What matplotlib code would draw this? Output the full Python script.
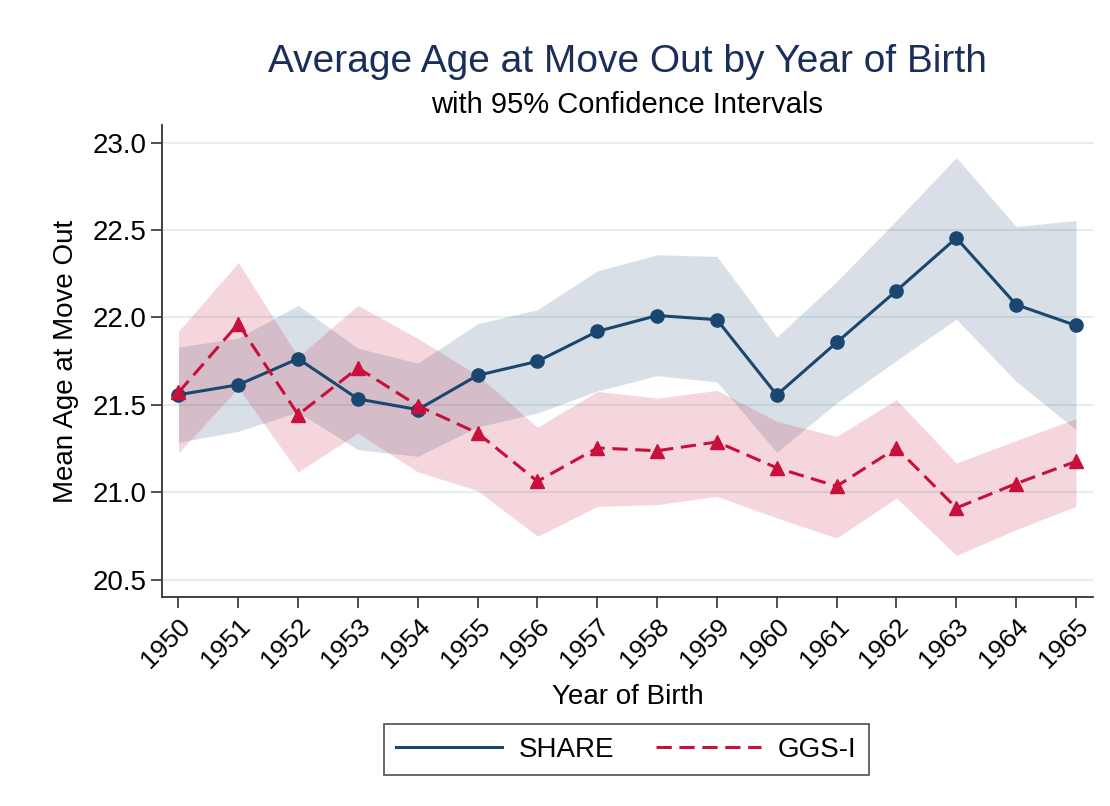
import numpy as np
import matplotlib
matplotlib.use("Agg")
import matplotlib.pyplot as plt

plt.rcParams['font.family'] = ['Liberation Sans', 'DejaVu Sans']

# 出生年份
years = list(range(1950, 1966))

# SHARE 均值及95%置信区间
share_mean = [21.558, 21.615, 21.764, 21.534, 21.473, 21.669, 21.749, 21.920,
              22.011, 21.987, 21.557, 21.857, 22.153, 22.454, 22.073, 21.954]
share_hi = [21.831, 21.882, 22.069, 21.824, 21.739, 21.964, 22.044, 22.266,
            22.358, 22.349, 21.888, 22.205, 22.555, 22.914, 22.520, 22.554]
share_lo = [21.286, 21.349, 21.459, 21.244, 21.206, 21.374, 21.454, 21.580,
            21.667, 21.631, 21.229, 21.511, 21.754, 21.990, 21.634, 21.358]

# GGS-I 均值及95%置信区间
ggs_mean = [21.571, 21.964, 21.444, 21.711, 21.495, 21.339, 21.063, 21.254,
            21.238, 21.288, 21.140, 21.035, 21.254, 20.911, 21.050, 21.177]
ggs_hi = [21.920, 22.314, 21.775, 22.069, 21.880, 21.670, 21.372, 21.577,
          21.539, 21.583, 21.406, 21.320, 21.530, 21.168, 21.297, 21.421]
ggs_lo = [21.225, 21.597, 21.117, 21.339, 21.117, 21.010, 20.749, 20.920,
          20.930, 20.977, 20.854, 20.739, 20.968, 20.640, 20.787, 20.920]

yticks = [20.5, 21.0, 21.5, 22.0, 22.5, 23.0]

navy = '#1a476f'
red = '#c8103a'

fig = plt.figure(figsize=(11.1, 8.06), dpi=100)
ax = fig.add_axes([0.1457, 0.2589, 0.8393, 0.586])

ax.fill_between(years, share_lo, share_hi, color=navy, alpha=0.17, lw=0)
ax.fill_between(years, ggs_lo, ggs_hi, color=red, alpha=0.17, lw=0)

ax.plot(years, share_mean, '-', color=navy, lw=2.2, marker='o', ms=9.5, label='SHARE', zorder=3)
ax.plot(years, ggs_mean, '--', color=red, lw=2.2, marker='^', ms=10,
        dashes=(5, 2.5), label='GGS-I', zorder=3)

ax.set_xlim(1949.72, 1965.29)
ax.set_ylim(20.40, 23.10)
ax.set_yticks(yticks)
ax.set_yticklabels(['%.1f' % v for v in yticks], fontsize=20)
ax.set_xticks(years)
ax.set_xticklabels([str(y) for y in years], fontsize=19, rotation=45,
                   ha='right', rotation_mode='anchor')
ax.tick_params(axis='both', length=8, width=1.2, color='#333333', direction='out')
ax.tick_params(axis='x', pad=4)
ax.tick_params(axis='y', pad=3)

ax.grid(axis='y', color='#e3eeee', lw=1.5)
ax.set_axisbelow(True)
for s in ['top', 'right']:
    ax.spines[s].set_visible(False)
for s in ['left', 'bottom']:
    ax.spines[s].set_color('#333333')
    ax.spines[s].set_linewidth(1.3)

ax.set_xlabel('Year of Birth', fontsize=20, labelpad=8)
ax.set_ylabel('Mean Age at Move Out', fontsize=20, labelpad=10)

fig.text(0.565, 0.9236, 'Average Age at Move Out by Year of Birth', fontsize=28,
         color='#1a2e5a', ha='center', va='center')
fig.text(0.565, 0.870, 'with 95% Confidence Intervals', fontsize=21,
         color='black', ha='center', va='center')

leg = fig.legend(handles=ax.get_lines(), loc='center', bbox_to_anchor=(0.5644, 0.0695),
                 ncol=2, fontsize=20, handlelength=3.8, columnspacing=1.5,
                 frameon=True, fancybox=False, edgecolor='#222222',
                 borderpad=0.45, handletextpad=0.6)
for h in leg.legend_handles:
    h.set_marker('')
leg.get_frame().set_linewidth(1.2)

plt.savefig('out.png', dpi=100)
